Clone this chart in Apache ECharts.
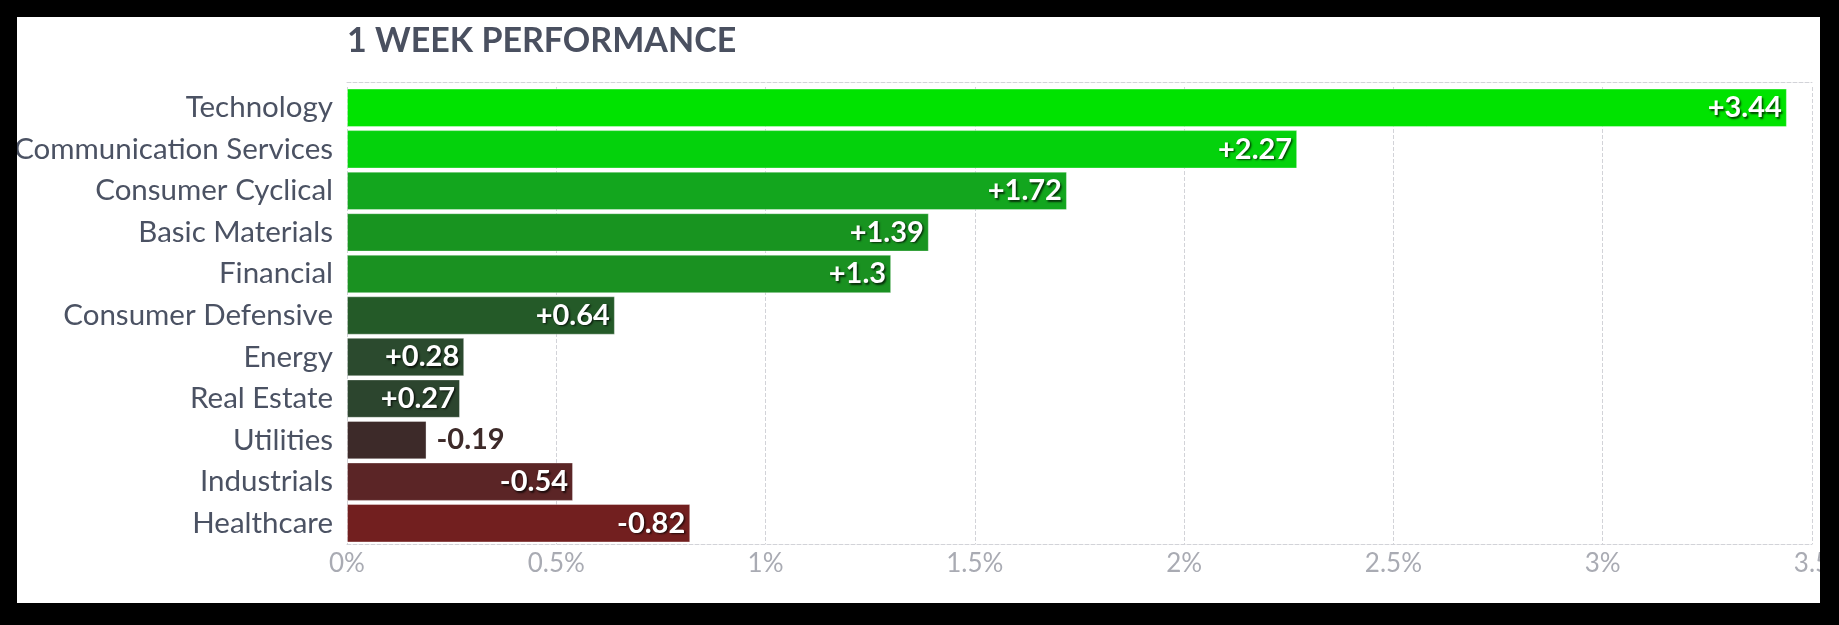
<!DOCTYPE html>
<html><head><meta charset="utf-8">
<script src="https://cdn.jsdelivr.net/npm/echarts@6/dist/echarts.min.js"></script>
<style>
html,body{margin:0;padding:0;background:#000;}
#wrap{position:absolute;left:17px;top:17px;width:1803px;height:586px;background:#fff;overflow:hidden;}
#c{position:absolute;left:-17px;top:-17px;width:1839px;height:625px;}
</style></head>
<body><div id="wrap"><div id="c"></div></div>
<script>
const categories = ["Technology","Communication Services","Consumer Cyclical","Basic Materials","Financial","Consumer Defensive","Energy","Real Estate","Utilities","Industrials","Healthcare"];
const values = [3.44, 2.27, 1.72, 1.39, 1.3, 0.64, 0.28, 0.27, -0.19, -0.54, -0.82];
const barColors = ["#00e300","#04d20c","#13a61e","#189420","#1a9121","#245a28","#2b4a2e","#2c452e","#3d2a29","#5b2526","#721f1f"];
const tickLabels = ["0%","0.5%","1%","1.5%","2%","2.5%","3%","3.5"];

const FONT = "Lato, 'Open Sans', sans-serif";
const chart = echarts.init(document.getElementById('c'), null, {renderer:'canvas'});
const data = values.map((v,i)=>{
  const inside = Math.abs(v) >= 0.25;
  return {
    value: Math.abs(v),
    itemStyle:{color:barColors[i], borderColor:'rgba(255,255,255,0.35)', borderWidth:1},
    label: inside ? {position:'insideRight', distance:5, color:'#fff',
        textShadowColor:'rgba(0,0,0,0.7)', textShadowBlur:2, textShadowOffsetX:1.5, textShadowOffsetY:1.5}
      : {position:'right', distance:10, color:barColors[i], textShadowColor:'transparent'}
  };
});
chart.setOption({
  animation:false,
  backgroundColor:'#fff',
  title:{text:'1 WEEK PERFORMANCE', left:342, top:19,
    textStyle:{fontFamily:FONT, fontSize:34, fontWeight:'bold', color:'#4a5060'}},
  grid:{left:347, right:27, top:87, bottom:81, containLabel:false},
  xAxis:[{
    type:'value', min:0, max:3.5, interval:0.5, position:'bottom',
    axisLine:{show:true, lineStyle:{color:'#d2d3d8', type:'dashed', width:1}},
    axisTick:{show:false},
    splitLine:{show:true, lineStyle:{color:'#d2d3d8', type:'dashed', width:1}},
    axisLabel:{color:'#a9abb3', fontFamily:FONT, fontSize:26, margin:7,
      formatter:(v)=>tickLabels[Math.round(v/0.5)]}
  },{
    type:'value', min:0, max:3.5, interval:0.5, position:'top', offset:5,
    axisLine:{show:true, lineStyle:{color:'#d2d3d8', type:'dashed', width:1}},
    axisTick:{show:false}, axisLabel:{show:false}, splitLine:{show:false}
  }],
  yAxis:{
    type:'category', data:categories, inverse:true,
    axisLine:{show:false}, axisTick:{show:false},
    axisLabel:{color:'#4b5263', fontFamily:FONT, fontSize:29.5, margin:14}
  },
  series:[{
    type:'bar', data:data, barCategoryGap:'7.5%', xAxisIndex:0,
    label:{show:true, fontFamily:FONT, fontSize:29, fontWeight:'bold',
      formatter:(p)=>{const v=values[p.dataIndex]; return (v>0?'+':'')+v;}}
  }]
});
</script></body></html>
